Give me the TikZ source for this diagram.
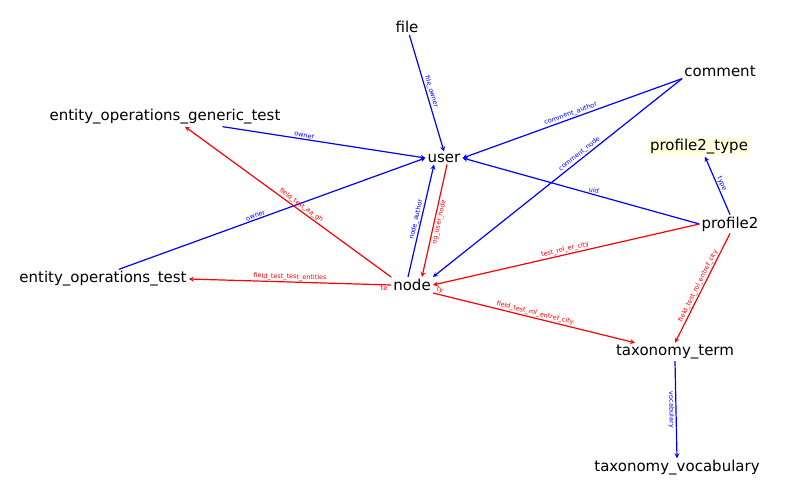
\documentclass[tikz,border=0pt]{standalone}
\usepackage{fontspec}
\setmainfont{DejaVu Sans}
\definecolor{typebg}{HTML}{FFFFE0}
\tikzset{
	ent/.style={inner sep=2pt,font=\fontsize{15}{17}\selectfont},
	ref/.style={line width=1.2pt,blue,-stealth},
	own/.style={line width=1.2pt,red,-stealth},
	lbl/.style={midway,sloped,above,inner sep=1pt,font=\fontsize{6.5}{7}\selectfont}
}
\begin{document}
\begin{tikzpicture}[x=1pt,y=-1pt]
	\useasboundingbox (0,0) rectangle (785,487);
	\node[ent] (file) at (407,27) {file};
	\node[ent] (comment) at (720,71) {comment};
	\node[ent] (eogt) at (165,117) {entity\_operations\_generic\_test};
	\node[ent] (user) at (444,158) {user};
	\node[ent,fill=typebg] (ptype) at (699,147) {profile2\_type};
	\node[ent] (profile) at (730,224) {profile2};
	\node[ent] (eot) at (103,279) {entity\_operations\_test};
	\node[ent] (node) at (412,285) {node};
	\node[ent] (term) at (675,352) {taxonomy\_term};
	\node[ent] (vocab) at (677,468) {taxonomy\_vocabulary};
	% blue references
	\draw[ref] (file) -- (user.north) node[lbl,text=blue]{file\_owner};
	\draw[ref] (comment.south west) -- (user.east) node[lbl,text=blue]{comment\_author};
	\draw[ref] (comment.south west) -- (node.north east) node[lbl,text=blue,pos=.4]{comment\_node};
	\draw[ref] ([xshift=-60pt]eogt.south east) -- (user.west) node[lbl,text=blue,pos=.4]{owner};
	\draw[ref] ([xshift=-70pt]eot.north east) -- (user.west) node[lbl,text=blue,pos=.45]{owner};
	\draw[ref] ([xshift=-4pt]node.north) -- ([xshift=-10pt]user.south) node[lbl,text=blue]{node\_author};
	\draw[ref] (profile.west) -- (user.east) node[lbl,text=blue,pos=.45]{uid};
	\draw[ref] (profile.north) -- ([xshift=6pt]ptype.south) node[lbl,text=blue]{type};
	\draw[ref] (term.south) -- (vocab.north) node[lbl,text=blue,below]{vocabulary};
	% red references
	\draw[own] ([xshift=3pt]user.south) -- ([xshift=10pt]node.north) node[lbl,text=red,below]{og\_user\_node};
	\draw[own] (node.north west) -- ([xshift=20pt]eogt.south) node[lbl,text=red,pos=.45]{field\_test\_aa\_gh};
	\draw[own] (node.west) -- (eot.east) node[lbl,text=red]{field\_test\_test\_entities};
	\draw[own] (profile.west) -- (node.east) node[lbl,text=red]{test\_rol\_er\_city};
	\draw[own] (node.south east) -- ([xshift=-40pt]term.north) node[lbl,text=red]{field\_test\_rol\_entref\_city};
	\draw[own] (profile.south) -- (term.north) node[lbl,text=red]{field\_test\_rol\_entref\_city};
	\node[red,inner sep=0pt,font=\fontsize{6.5}{7}\selectfont] (te) at (384,288) {te};
	\node[red,inner sep=0pt,rotate=-20,font=\fontsize{6.5}{7}\selectfont] (ty) at (440,290) {ty};
\end{tikzpicture}
\end{document}
